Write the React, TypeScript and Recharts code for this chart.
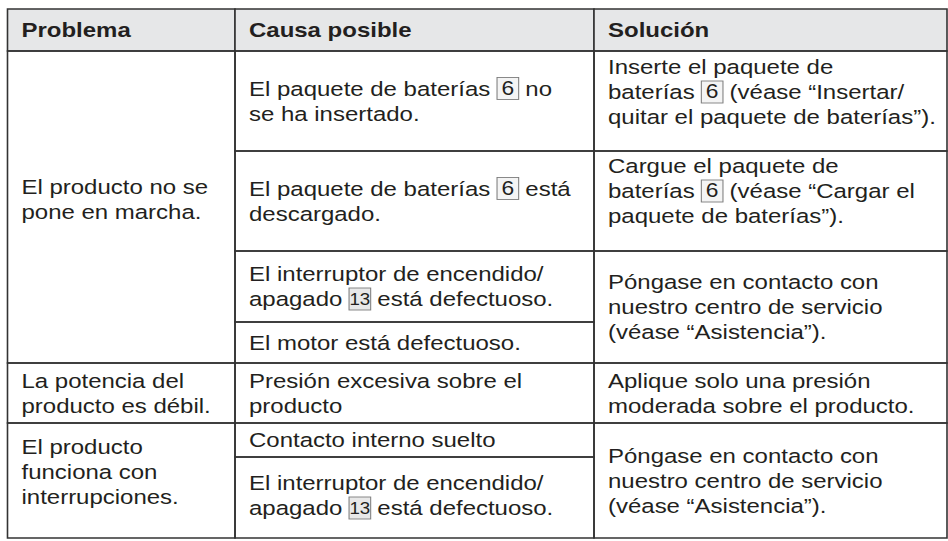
import React from "react";
import { ComposedChart, XAxis, YAxis, ReferenceArea } from "recharts";

// table content, one array per column; [n] marks a boxed item number
const headers = ["Problema", "Causa posible", "Solución"];

const problems = [
  ["El producto no se", "pone en marcha."],
  ["La potencia del", "producto es débil."],
  ["El producto", "funciona con", "interrupciones."],
];

const causes = [
  ["El paquete de baterías [6] no", "se ha insertado."],
  ["El paquete de baterías [6] está", "descargado."],
  ["El interruptor de encendido/", "apagado [13] está defectuoso."],
  ["El motor está defectuoso."],
  ["Presión excesiva sobre el", "producto"],
  ["Contacto interno suelto"],
  ["El interruptor de encendido/", "apagado [13] está defectuoso."],
];

const solutions = [
  ["Inserte el paquete de", "baterías [6] (véase “Insertar/", "quitar el paquete de baterías”)."],
  ["Cargue el paquete de", "baterías [6] (véase “Cargar el", "paquete de baterías”)."],
  ["Póngase en contacto con", "nuestro centro de servicio", "(véase “Asistencia”)."],
  ["Aplique solo una presión", "moderada sobre el producto."],
  ["Póngase en contacto con", "nuestro centro de servicio", "(véase “Asistencia”)."],
];

// which grid rows each cell covers [from, to]
const problemSpans = [[1, 5], [5, 6], [6, 8]];
const causeSpans = [[1, 2], [2, 3], [3, 4], [4, 5], [5, 6], [6, 7], [7, 8]];
const solutionSpans = [[1, 2], [2, 3], [3, 5], [5, 6], [6, 8]];

// layout
const W = 948;
const H = 541;
const colEdges = [7.5, 235, 594, 947];
const rowEdges = [9, 51, 151, 251, 322, 363, 423, 457, 538];
// some cells sit a bit above the middle in the print
const problemNudge = [-8, 0, -9];
const causeNudge = [0, 0, 0, 0, 0, 0, -2];
const solutionNudge = [-9, -10, 0, 0, 0];

const FONT = '"Liberation Sans", Arial, Helvetica, sans-serif';
const SIZE = 20.5;
const SX = 1.17; // the print face is wider than Arial
const LINE = 25;
const PAD = 14;
const INK = "#231f20";

let ctx: CanvasRenderingContext2D | null = null;
function measure(s: string, weight: string) {
  if (!ctx) ctx = document.createElement("canvas").getContext("2d");
  if (!ctx) return s.length * SIZE * 0.5;
  ctx.font = `${weight} ${SIZE}px "Liberation Sans"`;
  return ctx.measureText(s).width;
}

function CellText({ viewBox, lines, bold, nudge = 0 }: { viewBox: any; lines: string[]; bold?: boolean; nudge?: number }) {
  if (!viewBox) return null;
  const { x, y, height } = viewBox;
  const cy = y + height / 2 + nudge;
  const weight = bold ? "bold" : "normal";
  return (
    <g>
      {lines.map((line, i) => {
        const base = cy + (i - (lines.length - 1) / 2) * LINE + 7;
        const parts = line.split(/\[(\d+)\]/);
        let cx = 0;
        const items: React.ReactNode[] = [];
        parts.forEach((p, k) => {
          if (k % 2 === 0) {
            if (!p) return;
            items.push(
              <text key={k} x={cx} y={0} fill={INK} fontSize={SIZE} fontWeight={weight}
                fontFamily={FONT} style={{ whiteSpace: "pre" }}>
                {p}
              </text>
            );
            cx += measure(p, weight);
          } else {
            const bw = 18.5;
            items.push(
              <g key={k}>
                <rect x={cx} y={-18} width={bw} height={22} fill={p.length > 1 ? "#e8e8e8" : "#f4f4f4"}
                  stroke="#7d7d7d" strokeWidth={0.9} />
                <text x={cx + bw / 2} y={-1} textAnchor="middle" fill={INK}
                  fontSize={p.length > 1 ? 16 : 19.5} fontFamily={FONT}>
                  {p}
                </text>
              </g>
            );
            cx += bw;
          }
        });
        return (
          <g key={i} transform={`translate(${x + PAD},${base}) scale(${SX},1)`}>
            {items}
          </g>
        );
      })}
    </g>
  );
}

function cellArea(key: string, col: number, span: number[], lines: string[], nudge: number, header?: boolean) {
  return (
    <ReferenceArea
      key={key}
      x1={colEdges[col]}
      x2={colEdges[col + 1]}
      y1={rowEdges[span[0]]}
      y2={rowEdges[span[1]]}
      fill={header ? "#e6e7e8" : "none"}
      fillOpacity={1}
      stroke="#333333"
      strokeWidth={1.6}
      ifOverflow="visible"
      label={(props: any) => <CellText viewBox={props.viewBox} lines={lines} bold={header} nudge={nudge} />}
    />
  );
}

export default function App() {
  return (
    <div style={{ position: "absolute", left: 0, top: 0, background: "#fff" }}>
      <ComposedChart width={W} height={H} data={[]} margin={{ top: 0, right: 0, bottom: 0, left: 0 }}>
        <XAxis type="number" dataKey="x" domain={[0, W]} hide allowDataOverflow />
        <YAxis type="number" dataKey="y" domain={[0, H]} reversed hide allowDataOverflow />
        {headers.map((h, i) => cellArea(`h${i}`, i, [0, 1], [h], 0, true))}
        {problems.map((c, i) => cellArea(`p${i}`, 0, problemSpans[i], c, problemNudge[i]))}
        {causes.map((c, i) => cellArea(`c${i}`, 1, causeSpans[i], c, causeNudge[i]))}
        {solutions.map((c, i) => cellArea(`s${i}`, 2, solutionSpans[i], c, solutionNudge[i]))}
      </ComposedChart>
    </div>
  );
}
